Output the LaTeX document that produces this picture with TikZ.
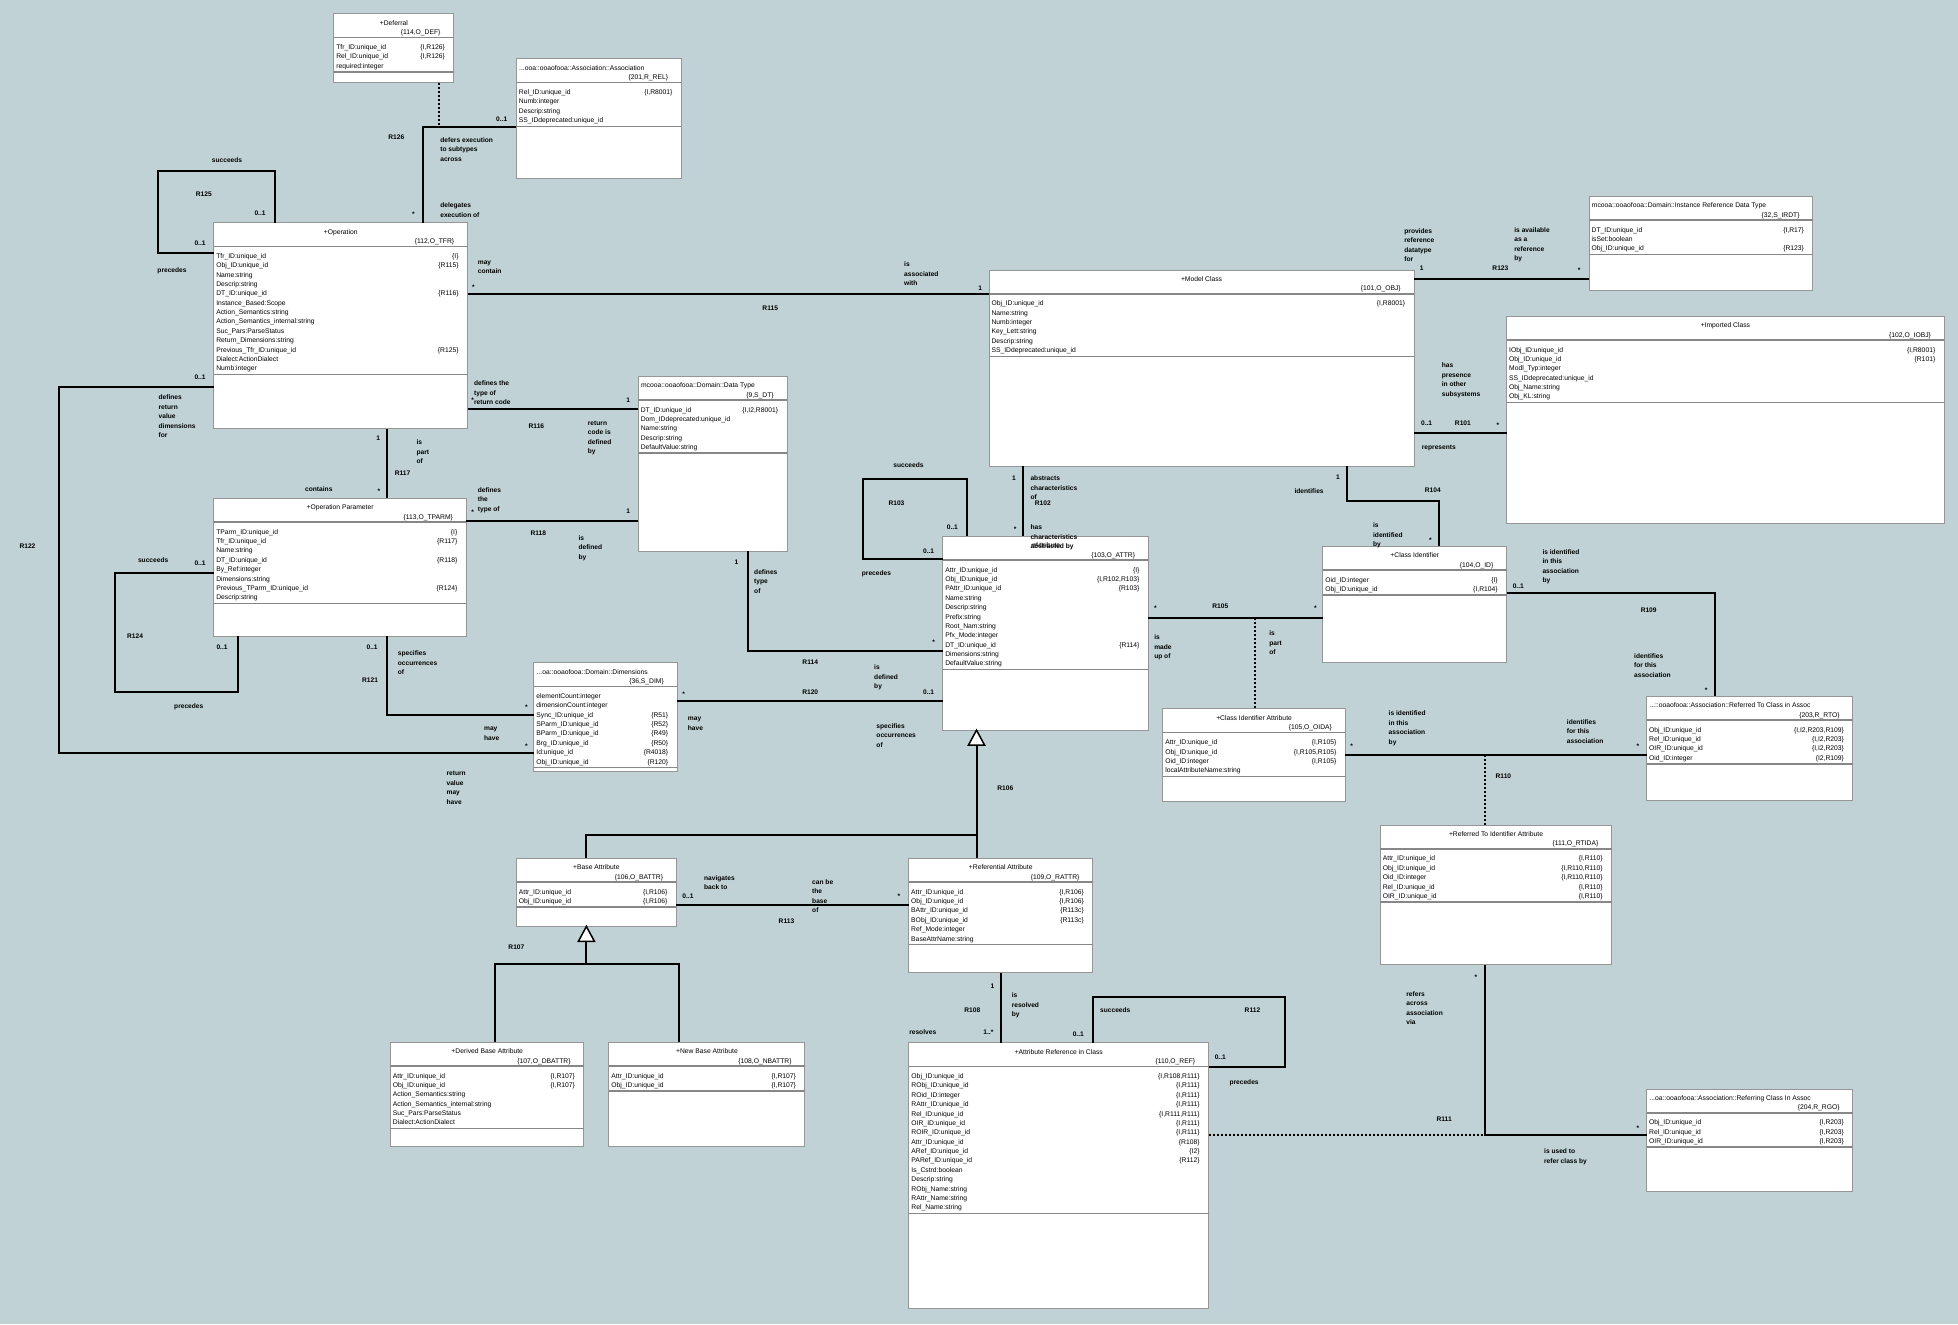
\documentclass[tikz,border=0pt]{standalone}
\usepackage{fontspec}
\setmainfont{Liberation Sans}
\definecolor{bgcol}{RGB}{192,210,213}
\definecolor{boxgray}{RGB}{150,150,150}
\definecolor{sepgray}{RGB}{135,135,135}
\tikzset{
  classbox/.style={draw=boxgray, fill=white, line width=0.8pt, inner sep=0pt, outer sep=0pt},
  sepline/.style={draw=sepgray, line width=1.2pt},
  ttltxt/.style={font=\fontsize{5.4}{6}\selectfont, inner sep=0pt},
  relline/.style={draw=black, line width=1.6pt, line join=miter},
  dotline/.style={draw=black, line width=1.6pt, dash pattern=on 1.6pt off 1.6pt},
  gentri/.style={draw=black, fill=white, line width=1.2pt, line join=miter},
  lbl/.style={font=\fontsize{5.3}{7.6}\selectfont\bfseries, inner sep=0pt, anchor=base west},
  lblc/.style={lbl, anchor=base},
}
\newcommand{\ml}[1]{\begin{tabular}[t]{@{}l@{}}#1\end{tabular}}
% name, left, top, right, bottom, title c/l, title, id, attributes
\newcommand{\umlclass}[9]{%
  \node[classbox, minimum width=#4-#2, minimum height=#5-#3, anchor=north west] (#1) at (#2,#3) {};
  \draw[sepline] ([yshift=-19pt]#1.north west) -- ([yshift=-19pt]#1.north east);
  \if c#6
    \node[ttltxt, anchor=base] (#1-t) at ([yshift=-9.2pt]#1.north) {#7};
  \else
    \node[ttltxt, anchor=base west] (#1-t) at ([xshift=2pt,yshift=-9.2pt]#1.north west) {#7};
  \fi
  \node[ttltxt, anchor=base east] (#1-k) at ([xshift=-10.5pt,yshift=-16.6pt]#1.north east) {#8};
  \foreach \an/\rf [count=\n] in {#9} {
    \node[ttltxt, anchor=base west] (#1-a\n) at ([xshift=1.8pt,yshift={-28.6pt-(\n-1)*7.5pt}]#1.north west) {\an};
    \node[ttltxt, anchor=base east] (#1-r\n) at ([xshift=-7pt,yshift={-28.6pt-(\n-1)*7.5pt}]#1.north east) {\rf};
    \xdef\nattr{\n}
  }
  \draw[sepline] ([yshift={-24pt-\nattr*7.5pt}]#1.north west) -- ([yshift={-24pt-\nattr*7.5pt}]#1.north east);
}
\begin{document}
\catcode`\_=12
\begin{tikzpicture}[x=1pt, y=-1pt]
    \useasboundingbox (0,0) rectangle (1566,1059);
    \fill[bgcol] (0,0) rectangle (1566,1059);

    % classes
    \umlclass{def}{267}{11}{363}{66}{c}{+Deferral}{\{114,O_DEF\}}{Tfr_ID:unique_id/{\{I,R126\}}, Rel_ID:unique_id/{\{I,R126\}}, required:integer/{}}
    \umlclass{assoc}{413}{47}{545}{143}{l}{...ooa::ooaofooa::Association::Association}{\{201,R_REL\}}{Rel_ID:unique_id/{\{I,R8001\}}, Numb:integer/{}, Descrip:string/{}, SS_IDdeprecated:unique_id/{}}
    \umlclass{op}{171}{178}{374}{343}{c}{+Operation}{\{112,O_TFR\}}{Tfr_ID:unique_id/{\{I\}}, Obj_ID:unique_id/{\{R115\}}, Name:string/{}, Descrip:string/{}, DT_ID:unique_id/{\{R116\}}, Instance_Based:Scope/{}, Action_Semantics:string/{}, Action_Semantics_internal:string/{}, Suc_Pars:ParseStatus/{}, Return_Dimensions:string/{}, Previous_Tfr_ID:unique_id/{\{R125\}}, Dialect:ActionDialect/{}, Numb:integer/{}}
    \umlclass{dt}{510.5}{301}{629.5}{441}{l}{mcooa::ooaofooa::Domain::Data Type}{\{9,S_DT\}}{DT_ID:unique_id/{\{I,I2,R8001\}}, Dom_IDdeprecated:unique_id/{}, Name:string/{}, Descrip:string/{}, DefaultValue:string/{}}
    \umlclass{opp}{171}{398.6}{373}{509}{c}{+Operation Parameter}{\{113,O_TPARM\}}{TParm_ID:unique_id/{\{I\}}, Tfr_ID:unique_id/{\{R117\}}, Name:string/{}, DT_ID:unique_id/{\{R118\}}, By_Ref:integer/{}, Dimensions:string/{}, Previous_TParm_ID:unique_id/{\{R124\}}, Descrip:string/{}}
    \umlclass{dims}{427}{530}{541.6}{617}{l}{...oa::ooaofooa::Domain::Dimensions}{\{36,S_DIM\}}{elementCount:integer/{}, dimensionCount:integer/{}, Sync_ID:unique_id/{\{R51\}}, SParm_ID:unique_id/{\{R52\}}, BParm_ID:unique_id/{\{R49\}}, Brg_ID:unique_id/{\{R50\}}, Id:unique_id/{\{R4018\}}, Obj_ID:unique_id/{\{R120\}}}
    \umlclass{mc}{791}{216}{1131}{373}{c}{+Model Class}{\{101,O_OBJ\}}{Obj_ID:unique_id/{\{I,R8001\}}, Name:string/{}, Numb:integer/{}, Key_Lett:string/{}, Descrip:string/{}, SS_IDdeprecated:unique_id/{}}
    \umlclass{irdt}{1271}{157}{1450}{232}{l}{mcooa::ooaofooa::Domain::Instance Reference Data Type}{\{32,S_IRDT\}}{DT_ID:unique_id/{\{I,R17\}}, isSet:boolean/{}, Obj_ID:unique_id/{\{R123\}}}
    \umlclass{imp}{1205}{253}{1555}{419}{c}{+Imported Class}{\{102,O_IOBJ\}}{IObj_ID:unique_id/{\{I,R8001\}}, Obj_ID:unique_id/{\{R101\}}, Modl_Typ:integer/{}, SS_IDdeprecated:unique_id/{}, Obj_Name:string/{}, Obj_KL:string/{}}
    \umlclass{ci}{1058}{437}{1205}{530}{c}{+Class Identifier}{\{104,O_ID\}}{Oid_ID:integer/{\{I\}}, Obj_ID:unique_id/{\{I,R104\}}}
    \umlclass{cia}{930}{567}{1076}{641}{c}{+Class Identifier Attribute}{\{105,O_OIDA\}}{Attr_ID:unique_id/{\{I,R105\}}, Obj_ID:unique_id/{\{I,R105,R105\}}, Oid_ID:integer/{\{I,R105\}}, localAttributeName:string/{}}
    \umlclass{rto}{1317}{557}{1482}{640.5}{l}{...::ooaofooa::Association::Referred To Class in Assoc}{\{203,R_RTO\}}{Obj_ID:unique_id/{\{I,I2,R203,R109\}}, Rel_ID:unique_id/{\{I,I2,R203\}}, OIR_ID:unique_id/{\{I,I2,R203\}}, Oid_ID:integer/{\{I2,R109\}}}
    \umlclass{rtida}{1104}{660}{1289}{771.5}{c}{+Referred To Identifier Attribute}{\{111,O_RTIDA\}}{Attr_ID:unique_id/{\{I,R110\}}, Obj_ID:unique_id/{\{I,R110,R110\}}, Oid_ID:integer/{\{I,R110,R110\}}, Rel_ID:unique_id/{\{I,R110\}}, OIR_ID:unique_id/{\{I,R110\}}}
    \umlclass{rgo}{1317}{871}{1482}{953}{l}{...oa::ooaofooa::Association::Referring Class In Assoc}{\{204,R_RGO\}}{Obj_ID:unique_id/{\{I,R203\}}, Rel_ID:unique_id/{\{I,R203\}}, OIR_ID:unique_id/{\{I,R203\}}}
    \umlclass{attr}{754}{429}{918.5}{584}{c}{+Attribute}{\{103,O_ATTR\}}{Attr_ID:unique_id/{\{I\}}, Obj_ID:unique_id/{\{I,R102,R103\}}, PAttr_ID:unique_id/{\{R103\}}, Name:string/{}, Descrip:string/{}, Prefix:string/{}, Root_Nam:string/{}, Pfx_Mode:integer/{}, DT_ID:unique_id/{\{R114\}}, Dimensions:string/{}, DefaultValue:string/{}}
    \umlclass{ba}{413}{686.6}{541}{741}{c}{+Base Attribute}{\{106,O_BATTR\}}{Attr_ID:unique_id/{\{I,R106\}}, Obj_ID:unique_id/{\{I,R106\}}}
    \umlclass{db}{312.3}{833.6}{467}{917}{c}{+Derived Base Attribute}{\{107,O_DBATTR\}}{Attr_ID:unique_id/{\{I,R107\}}, Obj_ID:unique_id/{\{I,R107\}}, Action_Semantics:string/{}, Action_Semantics_internal:string/{}, Suc_Pars:ParseStatus/{}, Dialect:ActionDialect/{}}
    \umlclass{nb}{487}{833.6}{643.8}{917}{c}{+New Base Attribute}{\{108,O_NBATTR\}}{Attr_ID:unique_id/{\{I,R107\}}, Obj_ID:unique_id/{\{I,R107\}}}
    \umlclass{ra}{726.8}{686.6}{874}{778}{c}{+Referential Attribute}{\{109,O_RATTR\}}{Attr_ID:unique_id/{\{I,R106\}}, Obj_ID:unique_id/{\{I,R106\}}, BAttr_ID:unique_id/{\{R113c\}}, BObj_ID:unique_id/{\{R113c\}}, Ref_Mode:integer/{}, BaseAttrName:string/{}}
    \umlclass{ref}{727}{834}{966.6}{1046.6}{c}{+Attribute Reference in Class}{\{110,O_REF\}}{Obj_ID:unique_id/{\{I,R108,R111\}}, RObj_ID:unique_id/{\{I,R111\}}, ROid_ID:integer/{\{I,R111\}}, RAttr_ID:unique_id/{\{I,R111\}}, Rel_ID:unique_id/{\{I,R111,R111\}}, OIR_ID:unique_id/{\{I,R111\}}, ROIR_ID:unique_id/{\{I,R111\}}, Attr_ID:unique_id/{\{R108\}}, ARef_ID:unique_id/{\{I2\}}, PARef_ID:unique_id/{\{R112\}}, Is_Cstrd:boolean/{}, Descrip:string/{}, RObj_Name:string/{}, RAttr_Name:string/{}, Rel_Name:string/{}}

    % associations
    \coordinate (r126) at (351,101.3);
    \draw[relline] (assoc.west |- r126) -| (op.north -| 338,0);
    \draw[dotline] (def.south -| r126) -- (r126);
    \draw[relline] (op.north -| 220,0) |- (126.4,136.8) |- (op.west |- 0,202.4); % R125
    \draw[relline] (op.east |- 0,235.5) -- (mc.west |- 0,235.5); % R115
    \draw[relline] (op.east |- 0,327) -- (dt.west |- 0,327); % R116
    \draw[relline] (opp.east |- 0,416.8) -- (dt.west |- 0,416.8); % R118
    \draw[relline] (op.south -| 309.3,0) -- (opp.north -| 309.3,0); % R117
    \draw[relline] (opp.west |- 0,458) -| (92,553.6) -| (opp.south -| 190,0); % R124
    \draw[relline] (op.west |- 0,309.3) -| (47,602) -- (dims.west |- 0,602); % R122
    \draw[relline] (opp.south -| 309.6,0) |- (dims.west |- 0,572); % R121
    \draw[relline] (dims.east |- 0,560.5) -- (attr.west |- 0,560.5); % R120
    \draw[relline] (dt.south -| 598,0) |- (attr.west |- 0,521); % R114
    \draw[relline] (attr.north -| 773,0) |- (690,383) |- (attr.west |- 0,447); % R103
    \draw[relline] (mc.south -| 818,0) -- (attr.north -| 818,0); % R102
    \draw[relline] (mc.south -| 1077,0) |- (1151,401) -- (ci.north -| 1151,0); % R104
    \draw[relline] (mc.east |- 0,223) -- (irdt.west |- 0,223); % R123
    \draw[relline] (mc.east |- 0,346) -- (imp.west |- 0,346); % R101
    \coordinate (r105) at (1004,494);
    \draw[relline] (attr.east |- r105) -- (ci.west |- r105);
    \draw[dotline] (r105) -- (cia.north -| r105);
    \draw[relline] (ci.east |- 0,474) -| (rto.north -| 1372,0); % R109
    \coordinate (r110) at (1188,604);
    \draw[relline] (cia.east |- r110) -- (rto.west |- r110);
    \draw[dotline] (r110) -- (rtida.north -| r110);
    \coordinate (r111) at (1188,907.5);
    \draw[relline] (rtida.south -| r111) |- (rgo.west |- r111);
    \draw[dotline] (ref.east |- r111) -- (r111);
    \draw[relline] (ba.east |- 0,724) -- (ra.west |- 0,724); % R113
    \draw[relline] (ra.south -| 800.5,0) -- (ref.north -| 800.5,0); % R108
    \draw[relline] (ref.north -| 874.5,0) |- (1027.7,797.3) |- (ref.east |- 0,853.3); % R112

    % generalisations R106, R107
    \coordinate (t106) at (781,596); \coordinate (g106) at (781,668);
    \draw[relline] (t106) -- (g106);
    \draw[relline] (ba.north -| 469,0) |- (g106) -- (ra.north -| g106);
    \draw[gentri] (attr.south -| t106) -- ++(-6.5,12) -- ++(13,0) -- cycle;
    \coordinate (t107) at (469,753); \coordinate (g107) at (469,770.7);
    \draw[relline] (t107) -- (g107);
    \draw[relline] (db.north -| 396,0) |- (g107) -| (nb.north -| 543,0);
    \draw[gentri] (ba.south -| t107) -- ++(-6.5,12) -- ++(13,0) -- cycle;

    % R126
    \node[lblc] (r126m1) at (401.3,97.1) {0..1};
    \node[lblc] (r126n) at (317,111.6) {R126};
    \node[lbl] (r126a) at (352,113.6) {\ml{defers execution\\to subtypes\\across}};
    \node[lblc] (r126m2) at (330.7,173) {*};
    \node[lbl] (r126b) at (352,166.1) {\ml{delegates\\execution of}};
    % R125
    \node[lblc] (r125a) at (181.6,129.6) {succeeds};
    \node[lblc] (r125n) at (163,157) {R125};
    \node[lblc] (r125m1) at (208,172.6) {0..1};
    \node[lblc] (r125m2) at (160,196.6) {0..1};
    \node[lblc] (r125b) at (137.6,217.6) {precedes};
    % R115
    \node[lbl] (r115a) at (382,211.2) {\ml{may\\contain}};
    \node[lblc] (r115m1) at (378.7,231.5) {*};
    \node[lblc] (r115n) at (616,248.6) {R115};
    \node[lbl] (r115b) at (723,213.3) {\ml{is\\associated\\with}};
    \node[lblc] (r115m2) at (784,232.3) {1};
    % R116
    \node[lbl] (r116a) at (379,308.6) {\ml{defines the\\type of\\return code}};
    \node[lblc] (r116m1) at (378,321.6) {*};
    \node[lblc] (r116m2) at (502.5,321.6) {1};
    \node[lblc] (r116n) at (429,342.4) {R116};
    \node[lbl] (r116b) at (470,340.3) {\ml{return\\code is\\defined\\by}};
    % R118
    \node[lbl] (r118a) at (382,393.6) {\ml{defines\\the\\type of}};
    \node[lblc] (r118m1) at (378,411.5) {*};
    \node[lblc] (r118m2) at (502.5,410.6) {1};
    \node[lblc] (r118n) at (430.5,428.6) {R118};
    \node[lbl] (r118b) at (462.5,432) {\ml{is\\defined\\by}};
    % R117
    \node[lblc] (r117m1) at (302.5,352.6) {1};
    \node[lbl] (r117a) at (333,355.6) {\ml{is\\part\\of}};
    \node[lblc] (r117n) at (322,380.6) {R117};
    \node[lblc] (r117b) at (255,393.1) {contains};
    \node[lblc] (r117m2) at (303,394.5) {*};
    % R124
    \node[lblc] (r124a) at (122.5,449.6) {succeeds};
    \node[lblc] (r124m1) at (160,452.6) {0..1};
    \node[lblc] (r124n) at (108,510.6) {R124};
    \node[lblc] (r124m2) at (177.6,519.6) {0..1};
    \node[lblc] (r124b) at (151,566.6) {precedes};
    % R121
    \node[lblc] (r121m1) at (297.6,519.6) {0..1};
    \node[lbl] (r121a) at (318,524.6) {\ml{specifies\\occurrences\\of}};
    \node[lblc] (r121n) at (296,545.6) {R121};
    \node[lblc] (r121m2) at (421,567.5) {*};
    % R122
    \node[lblc] (r122m1) at (160,303.5) {0..1};
    \node[lbl] (r122a) at (126.7,319.6) {\ml{defines\\return\\value\\dimensions\\for}};
    \node[lblc] (r122n) at (22,438.6) {R122};
    \node[lblc] (r122m2) at (421,599) {*};
    \node[lbl] (r122b) at (387,584.3) {\ml{may\\have}};
    \node[lbl] (r122c) at (357,620.6) {\ml{return\\value\\may\\have}};
    % R120
    \node[lblc] (r120m1) at (546.7,557) {*};
    \node[lblc] (r120n) at (648,555.6) {R120};
    \node[lblc] (r120m2) at (742.7,555.6) {0..1};
    \node[lbl] (r120a) at (699,535.6) {\ml{is\\defined\\by}};
    \node[lbl] (r120b) at (550,576.3) {\ml{may\\have}};
    \node[lbl] (r120c) at (700.8,582.4) {\ml{specifies\\occurrences\\of}};
    % R114
    \node[lblc] (r114m1) at (589,451.2) {1};
    \node[lbl] (r114a) at (603,459.2) {\ml{defines\\type\\of}};
    \node[lblc] (r114n) at (648,531.2) {R114};
    \node[lblc] (r114m2) at (746.7,515.8) {*};
    % R103
    \node[lblc] (r103a) at (726.6,374.1) {succeeds};
    \node[lblc] (r103n) at (717,404.6) {R103};
    \node[lblc] (r103m1) at (761.7,423.6) {0..1};
    \node[lblc] (r103m2) at (742.7,442.6) {0..1};
    \node[lblc] (r103b) at (701,460.6) {precedes};
    % R102
    \node[lblc] (r102m1) at (811,384.3) {1};
    \node[lbl] (r102a) at (824,384.6) {\ml{abstracts\\characteristics\\of}};
    \node[lblc] (r102n) at (834,404.6) {R102};
    \node[lblc] (r102m2) at (812,425) {*};
    \node[lbl] (r102b) at (824,423.6) {\ml{has\\characteristics\\abstracted by}};
    % R104
    \node[lblc] (r104m1) at (1070,383.6) {1};
    \node[lblc] (r104a) at (1047,394.9) {identifies};
    \node[lblc] (r104n) at (1146,393.6) {R104};
    \node[lbl] (r104b) at (1098,422.1) {\ml{is\\identified\\by}};
    \node[lblc] (r104m2) at (1144,434) {*};
    % R123
    \node[lbl] (r123a) at (1123,186.6) {\ml{provides\\reference\\datatype\\for}};
    \node[lblc] (r123m1) at (1137,216.6) {1};
    \node[lblc] (r123n) at (1200,216.6) {R123};
    \node[lblc] (r123m2) at (1263,218) {*};
    \node[lbl] (r123b) at (1211,185.6) {\ml{is available\\as a\\reference\\by}};
    % R101
    \node[lblc] (r101m1) at (1141,340.6) {0..1};
    \node[lblc] (r101n) at (1170,340.6) {R101};
    \node[lblc] (r101m2) at (1198,342) {*};
    \node[lbl] (r101a) at (1153,294.1) {\ml{has\\presence\\in other\\subsystems}};
    \node[lbl] (r101b) at (1137,359.6) {represents};
    % R105
    \node[lblc] (r105m1) at (924,488) {*};
    \node[lblc] (r105n) at (976,486.6) {R105};
    \node[lblc] (r105m2) at (1052,488) {*};
    \node[lbl] (r105a) at (923,511.6) {\ml{is\\made\\up of}};
    \node[lbl] (r105b) at (1015,508.6) {\ml{is\\part\\of}};
    % R109
    \node[lbl] (r109m1) at (1209.7,470.6) {0..1};
    \node[lbl] (r109a) at (1233.5,443.2) {\ml{is identified\\in this\\association\\by}};
    \node[lblc] (r109n) at (1318.6,489.6) {R109};
    \node[lbl] (r109b) at (1306.8,526.4) {\ml{identifies\\for this\\association}};
    \node[lblc] (r109m2) at (1364.5,554.2) {*};
    % R110
    \node[lblc] (r110m1) at (1081,599) {*};
    \node[lbl] (r110a) at (1110.5,572.6) {\ml{is identified\\in this\\association\\by}};
    \node[lbl] (r110b) at (1253,579.2) {\ml{identifies\\for this\\association}};
    \node[lblc] (r110m2) at (1310,599) {*};
    \node[lbl] (r110n) at (1196,622.6) {R110};
    % R111
    \node[lblc] (r111m1) at (1180.5,783) {*};
    \node[lbl] (r111a) at (1124.6,796.6) {\ml{refers\\across\\association\\via}};
    \node[lblc] (r111n) at (1155,897.3) {R111};
    \node[lblc] (r111m2) at (1310,904) {*};
    \node[lbl] (r111b) at (1234.8,922.6) {\ml{is used to\\refer class by}};
    % R106, R107
    \node[lblc] (r106n) at (804,632.6) {R106};
    \node[lblc] (r107n) at (413,759.6) {R107};
    % R113
    \node[lbl] (r113m1) at (545.6,718.4) {0..1};
    \node[lbl] (r113a) at (563,704) {\ml{navigates\\back to}};
    \node[lbl] (r113b) at (649.4,707.2) {\ml{can be\\the\\base\\of}};
    \node[lblc] (r113m2) at (719,719) {*};
    \node[lblc] (r113n) at (629,738.6) {R113};
    % R108
    \node[lblc] (r108m1) at (793.7,790.6) {1};
    \node[lbl] (r108a) at (809,798.1) {\ml{is\\resolved\\by}};
    \node[lblc] (r108n) at (777.7,809.6) {R108};
    \node[lblc] (r108b) at (738,827.2) {resolves};
    \node[lblc] (r108m2) at (790.5,827.2) {1..*};
    % R112
    \node[lblc] (r112a) at (892,809.6) {succeeds};
    \node[lblc] (r112n) at (1001.7,809.6) {R112};
    \node[lblc] (r112m1) at (862.4,828.6) {0..1};
    \node[lblc] (r112m2) at (976,847.6) {0..1};
    \node[lblc] (r112b) at (995,867.2) {precedes};
\end{tikzpicture}
\end{document}
